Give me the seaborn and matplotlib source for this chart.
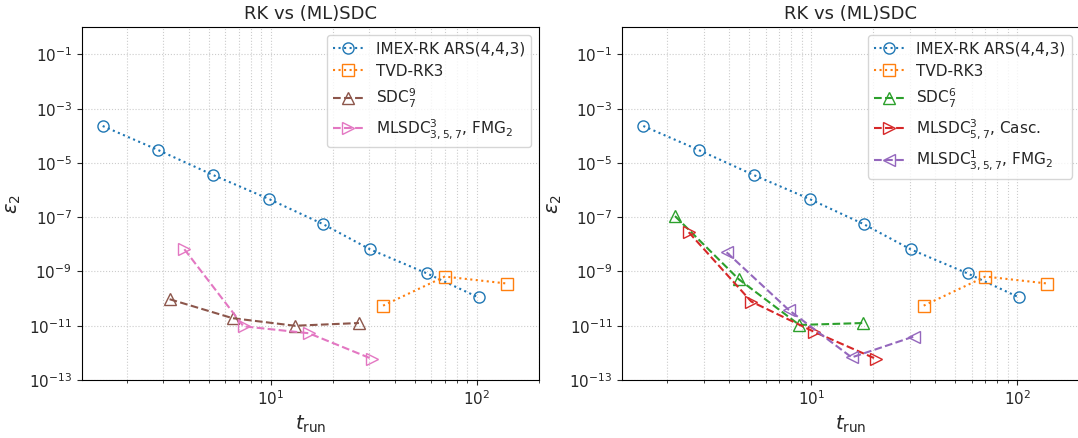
import numpy as np
import pandas as pd
import matplotlib
matplotlib.use("Agg")
import matplotlib.pyplot as plt
import matplotlib.ticker as mticker
import seaborn as sns

sns.set_style("ticks")
plt.rcParams['font.family'] = ['DejaVu Sans']

# ---- data ----
imex_t = [1.53, 2.84, 5.25, 9.8, 18.0, 30.4, 57.3, 102.0]
imex_e = [2.3e-4, 3.0e-5, 3.6e-6, 4.7e-7, 5.5e-8, 6.5e-9, 8.5e-10, 1.1e-10]

tvd_t = [35.1, 70.0, 140.0]
tvd_e = [5.5e-11, 6.5e-10, 3.6e-10]

# left panel
sdc97_t = [3.23, 6.53, 13.1, 26.8]
sdc97_e = [9.5e-11, 1.9e-11, 1.0e-11, 1.26e-11]

ml_fmg3_t = [3.81, 7.38, 15.3, 31.0]
ml_fmg3_e = [6.6e-9, 9.5e-12, 5.3e-12, 6.0e-13]

# right panel
sdc67_t = [2.18, 4.44, 8.75, 17.9]
sdc67_e = [1.1e-7, 5.2e-10, 1.07e-11, 1.26e-11]

ml_casc_t = [2.54, 5.11, 10.3, 20.7]
ml_casc_e = [2.8e-8, 7.8e-11, 6.0e-12, 5.9e-13]

ml_fmg1_t = [3.88, 7.78, 15.7, 31.4]
ml_fmg1_e = [5.1e-9, 3.8e-11, 6.8e-13, 4.0e-12]

lab_imex = "IMEX-RK ARS(4,4,3)"
lab_tvd = "TVD-RK3"
lab_sdc97 = r"SDC$^{9}_{7}$"
lab_mlfmg3 = r"MLSDC$^{3}_{3,5,7}$, FMG$_2$"
lab_sdc67 = r"SDC$^{6}_{7}$"
lab_mlcasc = r"MLSDC$^{3}_{5,7}$, Casc."
lab_mlfmg1 = r"MLSDC$^{1}_{3,5,7}$, FMG$_2$"

pal = sns.color_palette("tab10")

fig = plt.figure(figsize=(10.78, 4.38), dpi=100)
ax1 = fig.add_axes([0.0758, 0.1324, 0.424, 0.8053])
ax2 = fig.add_axes([0.5773, 0.1324, 0.424, 0.8053])


def draw(ax, t, e, color, ls, marker, label):
    sns.lineplot(x=t, y=e, ax=ax, color=color, linestyle=ls, marker=marker,
                 markersize=8, markerfacecolor='none', markeredgecolor=color,
                 markeredgewidth=1.0, linewidth=1.5, label=label, sort=False,
                 estimator=None)


for ax in (ax1, ax2):
    draw(ax, imex_t, imex_e, pal[0], ':', 'o', lab_imex)
    draw(ax, tvd_t, tvd_e, pal[1], ':', 's', lab_tvd)

draw(ax1, sdc97_t, sdc97_e, pal[5], '--', '^', lab_sdc97)
draw(ax1, ml_fmg3_t, ml_fmg3_e, pal[6], '--', '>', lab_mlfmg3)

draw(ax2, sdc67_t, sdc67_e, pal[2], '--', '^', lab_sdc67)
draw(ax2, ml_casc_t, ml_casc_e, pal[3], '--', '>', lab_mlcasc)
draw(ax2, ml_fmg1_t, ml_fmg1_e, pal[4], '--', '<', lab_mlfmg1)

for ax in (ax1, ax2):
    ax.set_xscale('log')
    ax.set_yscale('log')
    ax.set_xlim(1.21, 200)
    ax.set_ylim(1e-13, 1)
    ax.yaxis.set_major_locator(mticker.FixedLocator([10.0**k for k in range(-13, 0, 2)]))
    ax.yaxis.set_minor_locator(mticker.NullLocator())
    ax.grid(True, which='both', linestyle=':', color='#cccccc', linewidth=0.8)
    ax.tick_params(labelsize=11)
    ax.set_title("RK vs (ML)SDC", fontsize=13)
    ax.set_xlabel(r"$t_{\mathrm{run}}$", fontsize=14)
    ax.set_ylabel(r"$\varepsilon_2$", fontsize=14)
    for s in ax.spines.values():
        s.set_visible(True)
        s.set_color('black')
    ax.legend(loc='upper right', fontsize=11, framealpha=0.8)

fig.savefig("out.png", dpi=100)
